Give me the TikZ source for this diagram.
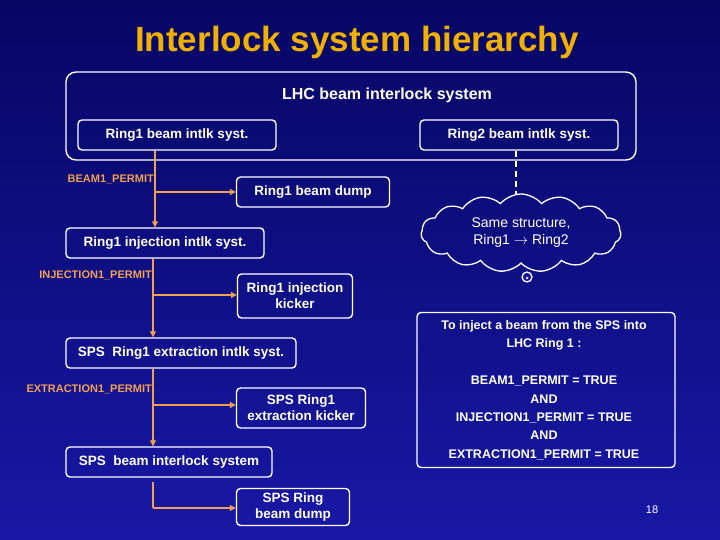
\documentclass[tikz,border=0pt]{standalone}
\usepackage{fontspec}
\setmainfont{Liberation Sans}
\usetikzlibrary{shapes.symbols,arrows.meta}
\definecolor{bgtop}{RGB}{6,6,100}
\definecolor{bgbot}{RGB}{24,24,165}
\definecolor{titlegold}{RGB}{240,176,0}
\definecolor{permit}{RGB}{240,160,80}
\tikzset{
	box/.style={draw=white, line width=1.4pt, rounded corners=4pt, text=white,
		font=\fontsize{13.5}{16}\selectfont\bfseries, align=center, inner sep=0pt},
	label/.style={text=permit, font=\fontsize{11}{12}\selectfont\bfseries, anchor=base east, inner sep=1pt},
	feed/.style={draw=permit, line width=1.1pt, -{Triangle[length=6pt,width=6pt]}},
	wire/.style={draw=permit, line width=1.1pt}
}
\begin{document}
\begin{tikzpicture}[x=1pt, y=-1pt]
	\shade[top color=bgtop, bottom color=bgbot] (0,0) rectangle (720,540);
	\useasboundingbox (0,0) rectangle (720,540);
	\node[text=titlegold, font=\fontsize{35}{40}\selectfont\bfseries] (title) at (357,42) {Interlock system hierarchy};
	% top level system
	\node[box, minimum width=570pt, minimum height=88pt, rounded corners=10pt] (lhc) at (351,116) {};
	\node[text=white, font=\fontsize{16}{18}\selectfont\bfseries] (lhct) at (387,95) {LHC beam interlock system};
	\node[box, minimum width=198pt, minimum height=30pt] (ring1) at (177,135) {Ring1 beam intlk syst.};
	\node[box, minimum width=198pt, minimum height=30pt] (ring2) at (519,135) {Ring2 beam intlk syst.};
	% chain
	\node[box, minimum width=153pt, minimum height=30pt] (dump1) at (313,192) {Ring1 beam dump};
	\node[box, minimum width=198pt, minimum height=30pt] (inj) at (165,243) {Ring1 injection intlk syst.};
	\node[box, minimum width=115pt, minimum height=44pt] (kick1) at (295,296) {Ring1 injection\\kicker};
	\node[box, minimum width=230pt, minimum height=30pt] (ext) at (181,353) {SPS~ Ring1 extraction intlk syst.};
	\node[box, minimum width=129pt, minimum height=40pt] (kick2) at (301,408) {SPS Ring1\\extraction kicker};
	\node[box, minimum width=206pt, minimum height=30pt] (sps) at (169,462) {SPS~ beam interlock system};
	\node[box, minimum width=113pt, minimum height=37pt] (dump2) at (293,507) {SPS Ring\\beam dump};
	\coordinate (b1) at (155,192);
	\coordinate (b2) at (153,295);
	\coordinate (b3) at (153,405);
	\coordinate (b4a) at (153,482);
	\coordinate (b4) at (153,508);
	\draw[feed] (ring1.south -| b1) -- (inj.north -| b1);
	\draw[feed] (b1) -- (dump1.west |- b1);
	\draw[feed] (inj.south -| b2) -- (ext.north -| b2);
	\draw[feed] (b2) -- (kick1.west |- b2);
	\draw[feed] (ext.south -| b3) -- (sps.north -| b3);
	\draw[feed] (b3) -- (kick2.west |- b3);
	\draw[wire] (b4a) -- (b4);
	\draw[feed] (b4) -- (dump2.west |- b4);
	\node[label] (l1) at (155,183) {BEAM1\_PERMIT};
	\node[label] (l2) at (153,278) {INJECTION1\_PERMIT};
	\node[label] (l3) at (153,392) {EXTRACTION1\_PERMIT};
	% ring 2 note
	\node[cloud, cloud puffs=15, cloud puff arc=100, aspect=2.8, draw=white, line width=1.3pt, text=white, inner sep=0pt,
		minimum width=200pt, minimum height=78pt, align=center, font=\fontsize{14}{17}\selectfont] (same) at (521,233)
		{Same structure,\\Ring1 $\rightarrow$ Ring2};
	\draw[white, line width=1.3pt, dash pattern=on 6pt off 4pt] (ring2.south -| 516,0) -- (516,194);
	\node[circle, draw=white, line width=1.3pt, fill=bgbot, minimum size=10pt, inner sep=0pt] (dot) at (527,277) {};
	\node[circle, fill=white, minimum size=2.5pt, inner sep=0pt] (dotc) at (527,278) {};
	% condition
	\node[box, minimum width=258pt, minimum height=155pt] (cond) at (546,390) {};
	\node[text=white, font=\fontsize{12.5}{18}\selectfont\bfseries, align=center] (condt) at (544,335)
		{To inject a beam from the SPS into\\LHC Ring 1 :};
	\node[text=white, font=\fontsize{12.5}{18.3}\selectfont\bfseries, align=center] (condb) at (544,418)
		{BEAM1\_PERMIT = TRUE\\AND\\INJECTION1\_PERMIT = TRUE\\AND\\EXTRACTION1\_PERMIT = TRUE};
	\node[text=white, font=\fontsize{11}{12}\selectfont] (page) at (652,510) {18};
\end{tikzpicture}
\end{document}
